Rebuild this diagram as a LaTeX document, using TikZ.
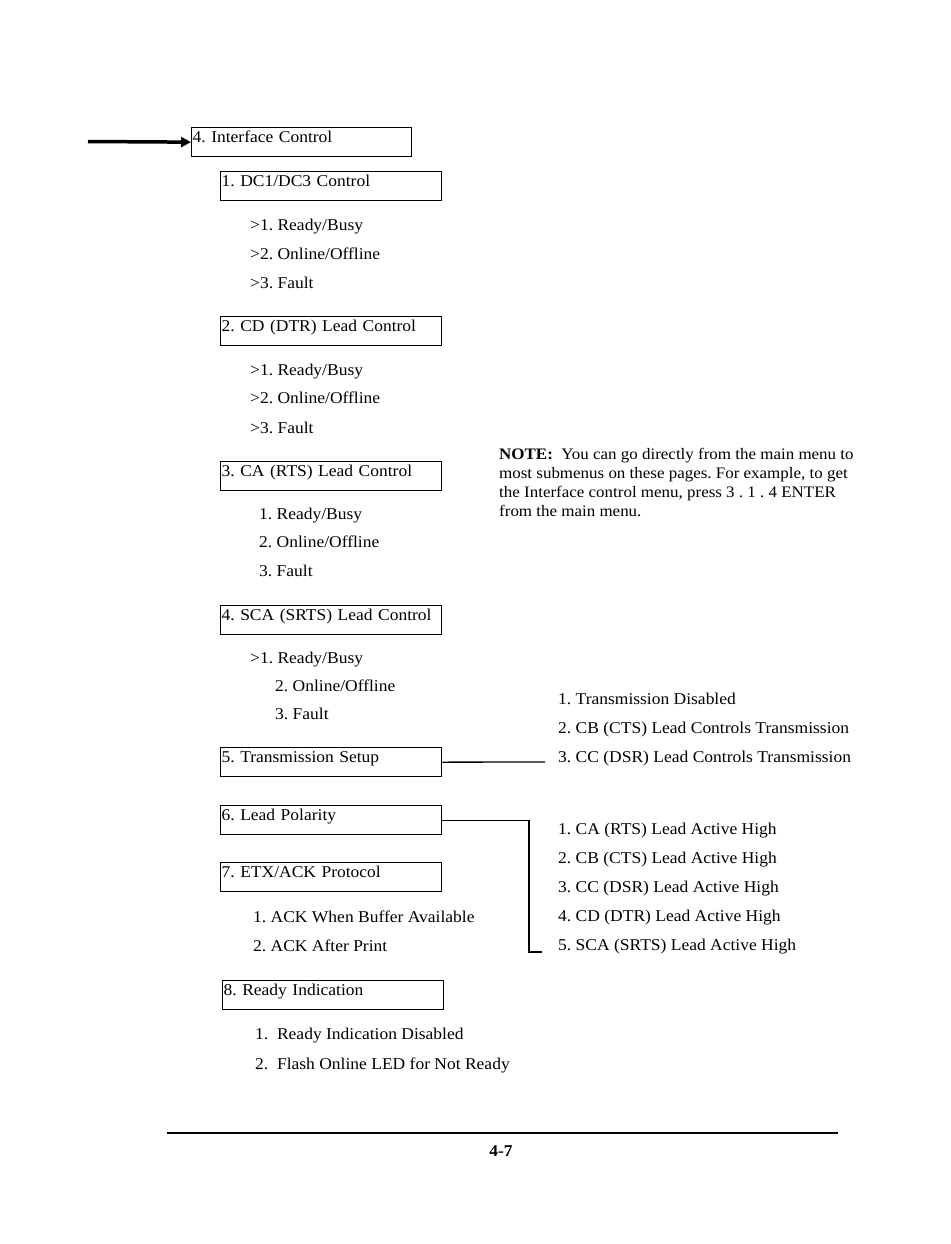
\documentclass[tikz,border=0pt]{standalone}
\usepackage{fontspec}
\setmainfont{Liberation Serif}[FakeStretch=1.06]
\usetikzlibrary{arrows.meta,positioning}
\frenchspacing

\begin{document}
\begin{tikzpicture}[
  x=1pt, y=-1pt,
  font=\fontsize{16.5}{19}\selectfont,
  menubox/.style={draw, line width=1.3pt, anchor=north west, text width=219pt, align=left, inner xsep=1pt, inner ysep=2pt, text height=13pt, text depth=12pt},
  item/.style={anchor=base west, inner sep=0pt},
  link/.style={line width=1.3pt},
  >={Triangle[length=10pt, width=10pt]}
]
\useasboundingbox (0,0) rectangle (950,1244);

% main menu entry
\node[menubox, text width=218pt] (top) at (191,127) {4. Interface Control};
\coordinate (src) at (88,141.5);
\draw[->, line width=3.5pt] (src) -- (top.west);

% 1
\node[menubox] (dc) at (220,171) {1. DC1/DC3 Control};
\node[item] (dc1) at (250,230) {>1. Ready/Busy};
\node[item] (dc2) at (250,259) {>2. Online/Offline};
\node[item] (dc3) at (250,288) {>3. Fault};

% 2
\node[menubox] (cd) at (220,316) {2. CD (DTR) Lead Control};
\node[item] (cd1) at (250,375) {>1. Ready/Busy};
\node[item] (cd2) at (250,403) {>2. Online/Offline};
\node[item] (cd3) at (250,433) {>3. Fault};

% 3
\node[menubox] (ca) at (220,461) {3. CA (RTS) Lead Control};
\node[item] (ca1) at (259,519) {1. Ready/Busy};
\node[item] (ca2) at (259,547) {2. Online/Offline};
\node[item] (ca3) at (259,576) {3. Fault};

% 4
\node[menubox] (sca) at (220,605) {4. SCA (SRTS) Lead Control};
\node[item] (sca1) at (250,663) {>1. Ready/Busy};
\node[item] (sca2) at (275,691) {2. Online/Offline};
\node[item] (sca3) at (275,719) {3. Fault};

% 5
\node[menubox] (tx) at (220,747) {5. Transmission Setup};
\node[item] (tx1) at (558,704) {1. Transmission Disabled};
\node[item] (tx2) at (558,733) {2. CB (CTS) Lead Controls Transmission};
\node[item] (tx3) at (558,762) {3. CC (DSR) Lead Controls Transmission};
\coordinate (txend) at (545,762);
\draw[link] (tx.east) -- (txend);

% 6
\node[menubox] (pol) at (220,805) {6. Lead Polarity};
\node[item] (pol1) at (558,834) {1. CA (RTS) Lead Active High};
\node[item] (pol2) at (558,863) {2. CB (CTS) Lead Active High};
\node[item] (pol3) at (558,892) {3. CC (DSR) Lead Active High};
\node[item] (pol4) at (558,921) {4. CD (DTR) Lead Active High};
\node[item] (pol5) at (558,950) {5. SCA (SRTS) Lead Active High};
\coordinate (polbend) at (529,952);
\coordinate (polend) at (542,952);
\draw[link] (pol.east) -| (polbend) -- (polend);

% 7
\node[menubox] (etx) at (220,862) {7. ETX/ACK Protocol};
\node[item] (etx1) at (253,922) {1. ACK When Buffer Available};
\node[item] (etx2) at (253,951) {2. ACK After Print};

% 8
\node[menubox] (rdy) at (222,980) {8. Ready Indication};
\node[item] (rdy1) at (255,1039) {1.\ \ Ready Indication Disabled};
\node[item] (rdy2) at (255,1069) {2.\ \ Flash Online LED for Not Ready};

% note
\node[anchor=north west, inner sep=0pt, align=left, font=\fontsize{16}{19}\selectfont] (note) at (499,448)
  {\textbf{NOTE:}\ \ You can go directly from the main menu to\\
   most submenus on these pages. For example, to get\\
   the Interface control menu, press 3 . 1 . 4 ENTER\\
   from the main menu.};

% footer
\coordinate (rulel) at (167,1133);
\coordinate (ruler) at (838,1133);
\draw[line width=2pt] (rulel) -- (ruler);
\node[item, anchor=base] (page) at (501,1156) {\textbf{4-7}};
\end{tikzpicture}
\end{document}
